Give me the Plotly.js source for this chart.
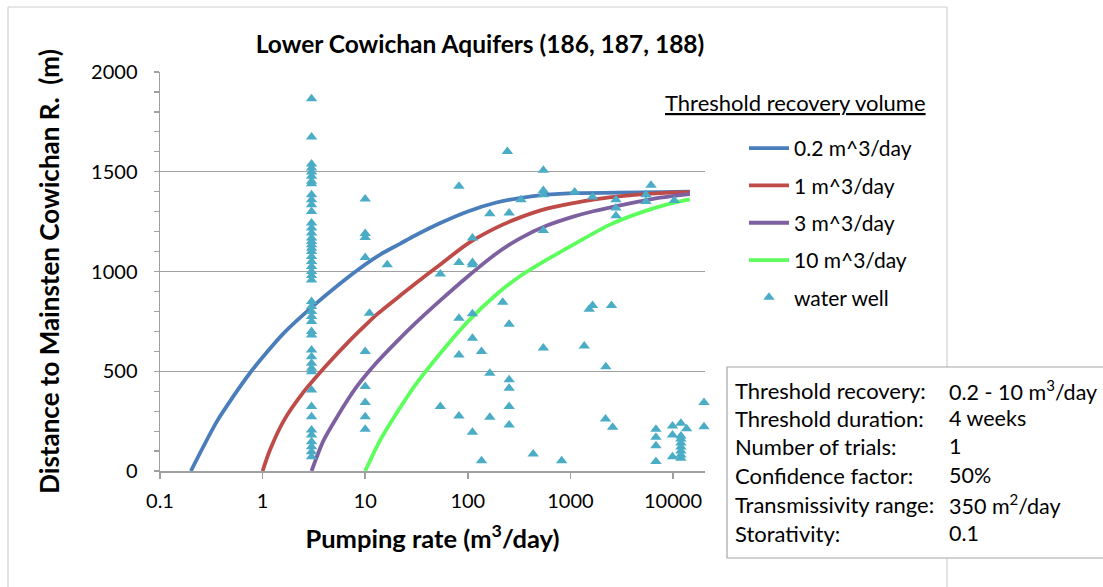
<!DOCTYPE html>
<html>
<head>
<meta charset="utf-8">
<script src="https://cdn.plot.ly/plotly-3.0.1.min.js"></script>
<style>html,body{margin:0;padding:0;background:#fff;}#chart{width:1103px;height:587px;}</style>
</head>
<body>
<div id="chart"></div>
<script>
// ---- Data ----
const seriesNames = ["0.2 m^3/day", "1 m^3/day", "3 m^3/day", "10 m^3/day"];

const q02Rate = [0.2, 0.36, 0.52, 0.75, 1, 1.6, 3, 5.7, 10, 14, 22, 30, 54, 100, 190, 320, 590, 1070, 3000, 7500, 14600];
const q02Dist = [0, 250, 375, 490, 570, 690, 820, 940, 1035, 1085, 1140, 1178, 1243, 1301, 1346, 1368, 1385, 1393, 1395, 1398, 1400];

const q1Rate = [1, 1.18, 1.6, 2.5, 4.2, 7.1, 10, 13, 22, 30, 54, 100, 190, 320, 590, 1070, 1670, 3500, 7500, 14600];
const q1Dist = [0, 105, 250, 395, 530, 655, 730, 785, 880, 935, 1035, 1140, 1220, 1270, 1315, 1343, 1360, 1380, 1393, 1398];

const q3Rate = [3, 3.9, 5.3, 8.2, 13, 21.8, 30, 54, 100, 190, 320, 590, 1070, 1670, 3500, 7500, 14600];
const q3Dist = [0, 150, 270, 420, 545, 665, 735, 855, 975, 1090, 1165, 1230, 1275, 1302, 1338, 1370, 1388];

const q10Rate = [10, 14, 20.2, 30, 54, 100, 190, 320, 590, 1070, 2430, 5140, 9350, 14600];
const q10Dist = [0, 155, 289, 423, 590, 749, 885, 975, 1059, 1135, 1235, 1300, 1340, 1362];

const wellRate = [
  3,3,3,3,3,3,3,3,3,3,3,3,3,3,3,3,3,3,3,3,3,3,3,3,3,3,3,3,3,3,3,3,3,3,3,3,3,3,3,3,3,3,3,3,3,3,3,
  10,10,10,10,10,10,10,10,10,11,
  243,545,82,545,545,1100,330,164,253,111,545,16.4,82,111,111,54,219,82,111,253,111,136,82,545,164,253,253,54,82,164,253,253,111,136,434,822,
  1645,2780,2780,2780,6110,5460,5460,10300,1525,1645,2515,1365,2215,2200,2580,
  6820,6820,6820,6820,9890,9890,9890,11940,13560,11940,11940,11940,11940,11940,11940,11940,20050,20050
];
const wellDist = [
  1866,1674,1539,1519,1499,1477,1452,1440,1385,1360,1335,1301,1243,1218,1193,1168,1151,1134,1117,1100,1075,1050,1025,1000,980,958,850,824,799,774,749,699,682,607,573,540,515,498,406,323,272,206,181,147,122,97,72,
  1363,1190,1170,1070,599,423,343,272,209,791,
  1602,1507,1427,1406,1385,1398,1360,1290,1293,1168,1206,1034,1045,1045,1034,988,846,766,788,736,666,599,582,616,490,457,415,323,276,269,323,231,194,52,85,52,
  1373,1360,1318,1280,1432,1385,1351,1356,811,829,829,627,523,261,219,
  209,169,127,47,226,181,72,239,212,176,160,140,120,100,80,64,343,222
];

const xTickVals = [0.1, 1, 10, 100, 1000, 10000];
const xTickText = ["0.1", "1", "10", "100", "1000", "10000"];

const infoLabels = ["Threshold recovery:", "Threshold duration:", "Number of trials:", "Confidence factor:", "Transmissivity range:", "Storativity:"];
const infoValues = ["0.2 - 10 m<sup>3</sup>/day", "4 weeks", "1", "50%", "350 m<sup>2</sup>/day", "0.1"];

// ---- Layout helpers ----
const W = 1103, H = 587;
const M = {l: 160, r: 398, t: 72, b: 116};
const PW = W - M.l - M.r, PH = H - M.t - M.b;
const px = v => (v - M.l) / PW;
const py = v => (H - M.b - v) / PH;

const FONT = "Lato, 'Open Sans', sans-serif";
const colors = ["#4A7EBB", "#BE4B48", "#7D60A0", "#5CFF5C"];
const rates = [q02Rate, q1Rate, q3Rate, q10Rate];
const dists = [q02Dist, q1Dist, q3Dist, q10Dist];

const traces = seriesNames.map((n, i) => ({
  type: "scatter", mode: "lines", name: n,
  x: rates[i], y: dists[i],
  line: {color: colors[i], width: 3.8, shape: "spline", smoothing: 0.8},
  legendgroup: "g" + i, hoverinfo: "x+y"
}));
traces.push({
  type: "scatter", mode: "markers", name: "water well",
  x: wellRate, y: wellDist, cliponaxis: false,
  marker: {symbol: "triangle-up", size: 10, color: "#4BACC6"},
  legendgroup: "g4"
});

const grey = "#a0a0a0";
const shapes = [
  {type: "line", xref: "paper", yref: "paper", x0: px(8), x1: px(8), y0: py(7), y1: py(590), line: {color: "#d0d0d0", width: 1.2}},
  {type: "line", xref: "paper", yref: "paper", x0: px(8), x1: px(947), y0: py(7), y1: py(7), line: {color: "#d0d0d0", width: 1.2}},
  {type: "line", xref: "paper", yref: "paper", x0: px(947), x1: px(947), y0: py(7), y1: py(590), line: {color: "#d0d0d0", width: 1.2}},
  {type: "rect", xref: "paper", yref: "paper", x0: px(727), x1: px(1115), y0: py(367), y1: py(558), fillcolor: "#ffffff", line: {color: "#a6a6a6", width: 1.2}}
];

const annotations = [
  {xref: "paper", yref: "paper", x: px(928), y: py(102), xanchor: "right", yanchor: "middle", showarrow: false,
   text: "<u>Threshold recovery volume</u>", font: {family: FONT, size: 22, color: "#000"}}
];
const lineY = [390, 418, 446, 475, 504, 533];
infoLabels.forEach((t, i) => {
  annotations.push({xref: "paper", yref: "paper", x: px(733), y: py(lineY[i]), xanchor: "left", yanchor: "middle", showarrow: false,
    text: t, font: {family: FONT, size: 22, color: "#000"}});
  annotations.push({xref: "paper", yref: "paper", x: px(947), y: py(lineY[i]), xanchor: "left", yanchor: "middle", showarrow: false,
    text: infoValues[i], font: {family: FONT, size: 21.5, color: "#000"}});
});

const layout = {
  width: W, height: H,
  margin: M,
  paper_bgcolor: "#fff", plot_bgcolor: "#fff",
  font: {family: FONT, size: 20, color: "#000"},
  title: {text: "<b>Lower Cowichan Aquifers (186, 187, 188)</b>", font: {family: FONT, size: 24.5, color: "#000"},
          xref: "container", x: 480 / W, xanchor: "center", yref: "container", y: 1 - 44 / H, yanchor: "middle"},
  xaxis: {
    type: "log", range: [-1, 4.312],
    tickvals: xTickVals, ticktext: xTickText,
    showgrid: false, zeroline: false,
    showline: true, linecolor: grey, linewidth: 1.5,
    ticks: "outside", ticklen: 6, tickcolor: grey, tickwidth: 1.5,
    ticklabelstandoff: 5,
    tickfont: {family: FONT, size: 20, color: "#000"},
    title: {text: "<b>Pumping rate (m<sup>3</sup>/day)</b>", font: {family: FONT, size: 25.5, color: "#000"}, standoff: 19}
  },
  yaxis: {
    range: [0, 2000], dtick: 500,
    showgrid: true, gridcolor: grey, gridwidth: 1.2, zeroline: false,
    showline: true, linecolor: grey, linewidth: 1.5,
    ticks: "outside", ticklen: 5, tickcolor: grey, tickwidth: 1.2,
    minor: {dtick: 100, ticks: "outside", ticklen: 5, tickcolor: grey, tickwidth: 1.2, showgrid: false},
    ticklabelstandoff: 12,
    tickfont: {family: FONT, size: 20, color: "#000"},
    title: {text: "<b>Distance to Mainsten Cowichan R.  (m)</b>", font: {family: FONT, size: 26, color: "#000"}, standoff: 24}
  },
  showlegend: true,
  legend: {
    x: px(744), y: py(128), xanchor: "left", yanchor: "top",
    bgcolor: "rgba(0,0,0,0)", borderwidth: 0,
    font: {family: FONT, size: 21, color: "#000"},
    itemwidth: 40,
    tracegroupgap: 7, traceorder: "grouped"
  },
  shapes: shapes,
  annotations: annotations
};

Plotly.newPlot("chart", traces, layout, {staticPlot: true, displayModeBar: false});
</script>
</body>
</html>
